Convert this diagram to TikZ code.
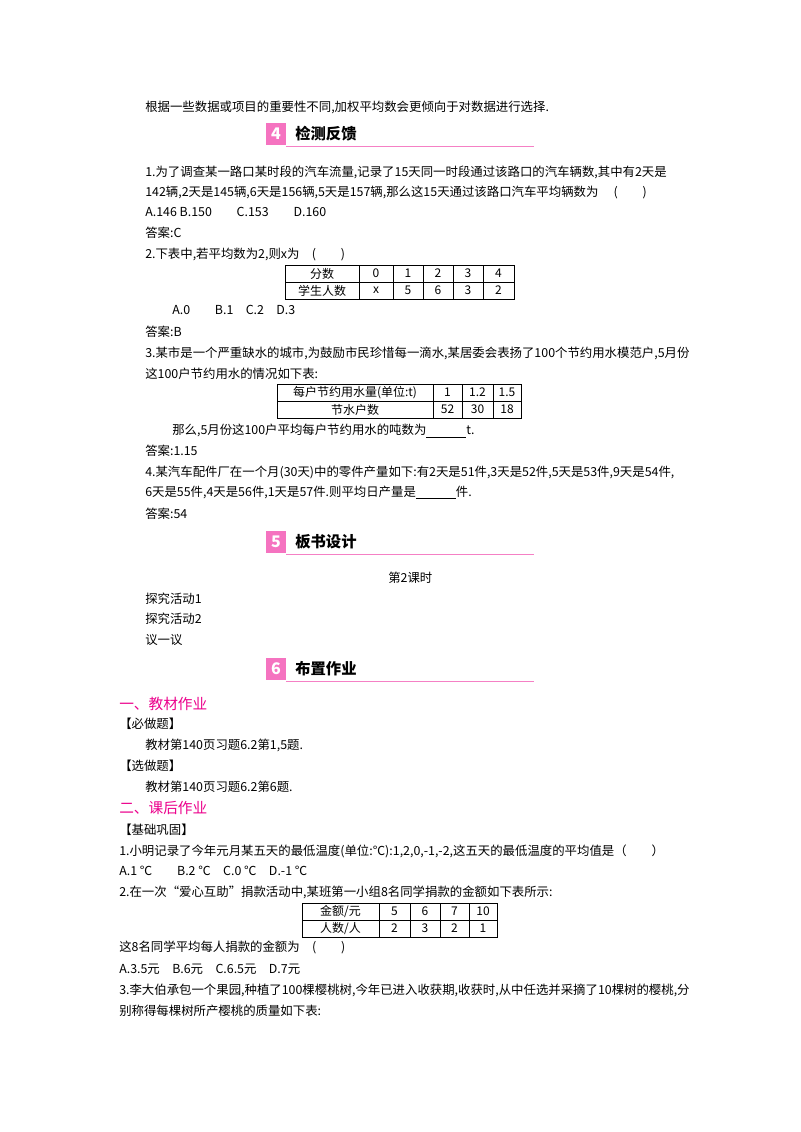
\documentclass[tikz,border=0pt]{standalone}
\usepackage{fontspec}
\setmainfont{Noto Sans CJK SC}
\newfontfamily\ser{Liberation Serif}
\begin{document}
\begin{tikzpicture}[x=0.75pt,y=-0.75pt,
 t/.style={anchor=west,inner sep=0pt,font=\fontsize{9.3}{11}\selectfont},
 h/.style={anchor=west,inner sep=0pt,font=\fontsize{11.5}{13}\selectfont\bfseries},
 m/.style={anchor=west,inner sep=0pt,text=magenta,font=\fontsize{11}{13}\selectfont},
 c/.style={inner sep=0pt,font=\fontsize{9}{11}\selectfont},
 ic/.style={fill=magenta!55,text=white,font=\bfseries\itshape\fontsize{12}{12}\selectfont,minimum width=15pt,minimum height=16pt,inner sep=0pt}]
\useasboundingbox (0,0) rectangle (800,1132);
\fill[white] (0,0) rectangle (800,1132);
\node[t] (l0) at (145,107) {根据一些数据或项目的重要性不同,加权平均数会更倾向于对数据进行选择.};
\node[ic] (i4) at (276,134) {4};
\node[h] (h4) at (295,134) {检测反馈};
\draw[magenta!50] (286,146) -- (534,146);
\node[t] (a1) at (145,172) {1.为了调查某一路口某时段的汽车流量,记录了15天同一时段通过该路口的汽车辆数,其中有2天是};
\node[t] (a2) at (145,192) {142辆,2天是145辆,6天是156辆,5天是157辆,那么这15天通过该路口汽车平均辆数为\quad\ (\qquad)};
\node[t] (a3) at (145,212) {A.146 B.150\qquad C.153\qquad D.160};
\node[t] (a4) at (145,233) {答案:C};
\node[t] (a5) at (145,254) {2.下表中,若平均数为2,则\textit{x}为\quad (\qquad)};
\draw (285,265) rectangle (514,299) (285,282)--(514,282);
\foreach \x in {359,393,423,453,483} \draw (\x,265)--(\x,299);
\node[c] at (322,273.5){分数}; \node[c] at (322,290.5){学生人数};
\foreach \x/\a/\b in {376/0/\textit{x},408/1/5,438/2/6,468/3/3,498.5/4/2}{\node[c] at (\x,273.5){\a};\node[c] at (\x,290.5){\b};}
\node[t] (a6) at (172,310) {A.0\qquad B.1\quad C.2\quad D.3};
\node[t] (a7) at (145,332) {答案:B};
\node[t] (a8) at (145,353) {3.某市是一个严重缺水的城市,为鼓励市民珍惜每一滴水,某居委会表扬了100个节约用水模范户,5月份};
\node[t] (a9) at (145,374) {这100户节约用水的情况如下表:};
\draw (277,384) rectangle (521,418) (277,401)--(521,401);
\foreach \x in {433,462,493} \draw (\x,384)--(\x,418);
\node[c] at (355,392.5){每户节约用水量(单位:t)}; \node[c] at (355,409.5){节水户数};
\foreach \x/\a/\b in {447.5/1/52,477.5/1.2/30,507/1.5/18}{\node[c] at (\x,392.5){\a};\node[c] at (\x,409.5){\b};}
\node[t] (b1) at (172,431) {那么,5月份这100户平均每户节约用水的吨数为\underline{\hspace{30pt}}t.};
\node[t] (b2) at (145,451) {答案:1.15};
\node[t] (b3) at (145,472) {4.某汽车配件厂在一个月(30天)中的零件产量如下:有2天是51件,3天是52件,5天是53件,9天是54件,};
\node[t] (b4) at (145,493) {6天是55件,4天是56件,1天是57件.则平均日产量是\underline{\hspace{30pt}}件.};
\node[t] (b5) at (145,514) {答案:54};
\node[ic] (i5) at (276,542) {5};
\node[h] (h5) at (295,542) {板书设计};
\draw[magenta!50] (286,554) -- (534,554);
\node[t] (c1) at (388,578) {第2课时};
\node[t] (c2) at (145,599) {探究活动1};
\node[t] (c3) at (145,619) {探究活动2};
\node[t] (c4) at (145,640) {议一议};
\node[ic] (i6) at (276,669) {6};
\node[h] (h6) at (295,669) {布置作业};
\draw[magenta!50] (286,681) -- (534,681);
\node[m] (d1) at (119,704) {一、教材作业};
\node[t] (d2) at (119,724) {【必做题】};
\node[t] (d3) at (145,745) {教材第140页习题6.2第1,5题.};
\node[t] (d4) at (119,766) {【选做题】};
\node[t] (d5) at (145,787) {教材第140页习题6.2第6题.};
\node[m] (d6) at (119,808) {二、课后作业};
\node[t] (d7) at (119,830) {【基础巩固】};
\node[t] (d8) at (119,851) {1.小明记录了今年元月某五天的最低温度(单位:℃):1,2,0,-1,-2,这五天的最低温度的平均值是（\qquad）};
\node[t] (d9) at (119,871) {A.1 ℃\qquad B.2 ℃\quad C.0 ℃\quad D.-1 ℃};
\node[t] (e1) at (119,892) {2.在一次“爱心互助”捐款活动中,某班第一小组8名同学捐款的金额如下表所示:};
\draw (302,903) rectangle (497,937) (302,920)--(497,920);
\foreach \x in {379,410,440,469} \draw (\x,903)--(\x,937);
\node[c] at (340.5,911.5){金额/元}; \node[c] at (340.5,928.5){人数/人};
\foreach \x/\a/\b in {394.5/5/2,425/6/3,454.5/7/2,483/10/1}{\node[c] at (\x,911.5){\a};\node[c] at (\x,928.5){\b};}
\node[t] (e2) at (119,947) {这8名同学平均每人捐款的金额为\quad (\qquad)};
\node[t] (e3) at (119,969) {A.3.5元\quad B.6元\quad C.6.5元\quad D.7元};
\node[t] (e4) at (119,990) {3.李大伯承包一个果园,种植了100棵樱桃树,今年已进入收获期,收获时,从中任选并采摘了10棵树的樱桃,分};
\node[t] (e5) at (119,1011) {别称得每棵树所产樱桃的质量如下表:};
\end{tikzpicture}
\end{document}
